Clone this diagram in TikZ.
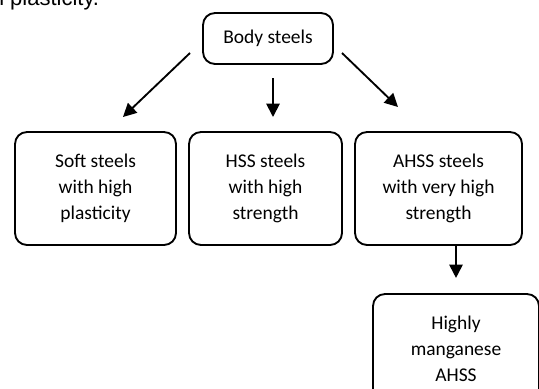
\documentclass[tikz,border=0pt]{standalone}
\usepackage{fontspec}
\setmainfont{Carlito}
\newfontfamily\captfont{Liberation Sans}
\usetikzlibrary{arrows.meta, positioning}

\begin{document}
\begin{tikzpicture}[x=0.75pt, y=-0.75pt,
    steel/.style={draw=black, line width=1.4pt, rounded corners=9pt, align=center,
        inner sep=0pt, font=\fontsize{14.6}{19.5}\selectfont},
    link/.style={-{Triangle[length=10pt, width=10pt]}, line width=1.4pt}]
    \clip (0,0) rectangle (539,389);
    \useasboundingbox (0,0) rectangle (539,389);
    % caption text cut off at the top of the page
    \node[anchor=base west, inner sep=0pt, font=\captfont\fontsize{16.5}{20}\selectfont] (capt) at (-1,6) {l plasticity.};
    % top box
    \node[steel, minimum width=130*0.75pt, minimum height=51*0.75pt] (body) at (268,38.5) {Body steels};
    % second row
    \node[steel, minimum width=161*0.75pt, minimum height=113*0.75pt] (soft) at (95.5,188.5) {Soft steels\\with high\\plasticity};
    \node[steel, minimum width=153*0.75pt, minimum height=113*0.75pt] (hss) at (265.5,188.5) {HSS steels\\with high\\strength};
    \node[steel, minimum width=167*0.75pt, minimum height=113*0.75pt] (ahss) at (438.5,188.5) {AHSS steels\\with very high\\strength};
    % third row
    \node[steel, minimum width=166*0.75pt, minimum height=110*0.75pt] (mn) at (456,349) {Highly\\manganese\\AHSS};
    % arrows
    \coordinate (a1) at (190,53);  \coordinate (b1) at (123,117);
    \coordinate (a2) at (273,78);  \coordinate (b2) at (273,117);
    \coordinate (a3) at (342,53);  \coordinate (b3) at (398,107);
    \draw[link] (a1) -- (b1);
    \draw[link] (a2) -- (b2);
    \draw[link] (a3) -- (b3);
    \draw[link] (ahss.south -| mn.north) -- ++(0,32);
\end{tikzpicture}
\end{document}
